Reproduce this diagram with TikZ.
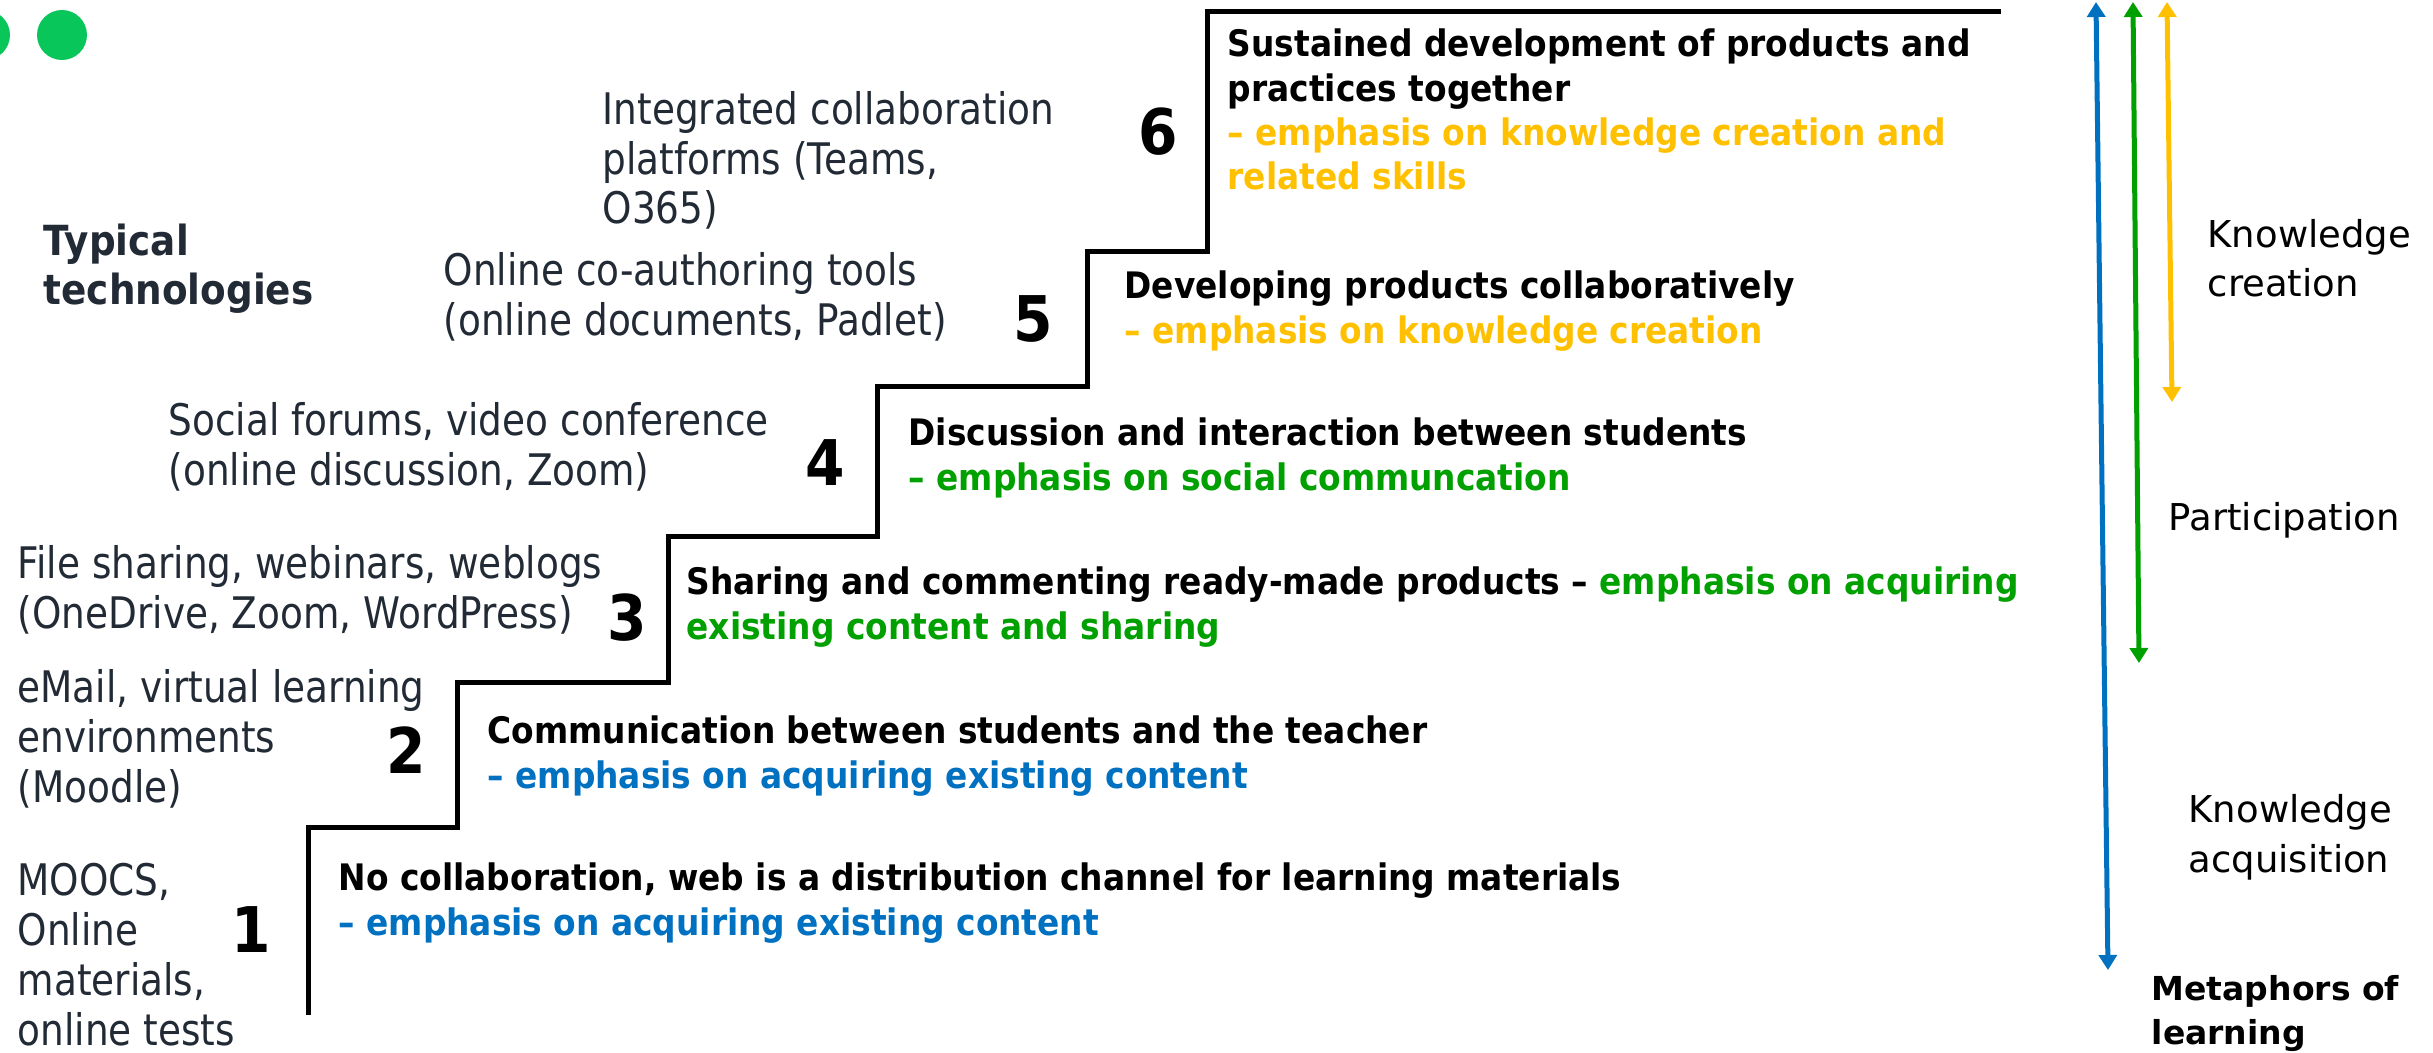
\documentclass[tikz,border=0pt]{standalone}
\usepackage{fontspec}
\setmainfont{DejaVu Sans}
\newfontfamily\techfont[FakeStretch=0.86]{DejaVu Sans}
\newfontfamily\stepfont[FakeStretch=0.9]{DejaVu Sans}
\usetikzlibrary{arrows.meta}

\definecolor{techgray}{HTML}{222A35}
\definecolor{acqblue}{HTML}{0070C0}
\definecolor{partgreen}{HTML}{00A000}
\definecolor{creayellow}{HTML}{FFC000}
\definecolor{dotgreen}{HTML}{08C65A}

% base anchor of a multi-line node = baseline of its last line
\tikzset{
  tech/.style={anchor=base west, align=left, inner sep=0pt, text=techgray,
    font=\techfont\fontsize{4.35mm}{5mm}\selectfont},
  techhead/.style={tech, font=\stepfont\bfseries\fontsize{4.15mm}{5mm}\selectfont},
  stepnum/.style={anchor=base, inner sep=0pt,
    font=\stepfont\bfseries\fontsize{6.3mm}{7mm}\selectfont},
  stepdesc/.style={anchor=base west, align=left, inner sep=0pt,
    font=\stepfont\bfseries\fontsize{3.65mm}{4.45mm}\selectfont},
  metaphor/.style={anchor=base west, align=left, inner sep=0pt,
    font=\fontsize{3.7mm}{5mm}\selectfont},
  stair/.style={line width=0.5mm, line join=miter},
  metaarrow/.style={line width=0.5mm, >={Triangle[width=1.8mm,length=1.5mm]}, <->},
}

\begin{document}
\begin{tikzpicture}[x=0.1mm, y=-0.1mm]
  \useasboundingbox (0,0) rectangle (2433,1053);

  % dots in the corner
  \fill[dotgreen] (-15,35) circle (25);
  \fill[dotgreen] (62,35) circle (25);

  % staircase
  \draw[stair] (308,1015) |- (457,827) |- (668,682) |- (877,536)
    |- (1087,387) |- (1207,252) |- (2001,12);

  % technologies
  \node[techhead] (typical) at (43,305) {Typical\\technologies};
  \node[tech] (tech6) at (602,224) {Integrated collaboration\\platforms (Teams,\\O365)};
  \node[tech] (tech5) at (443,336) {Online co-authoring tools\\(online documents, Padlet)};
  \node[tech] (tech4) at (168,485) {Social forums, video conference\\(online discussion, Zoom)};
  \node[tech] (tech3) at (17,628) {File sharing, webinars, weblogs\\(OneDrive, Zoom, WordPress)};
  \node[tech] (tech2) at (17,802) {eMail, virtual learning\\environments\\(Moodle)};
  \node[tech] (tech1) at (17,1045) {MOOCS,\\Online\\materials,\\online tests};

  % step numbers
  \node[stepnum] (n1) at (251,952) {1};
  \node[stepnum] (n2) at (406,773) {2};
  \node[stepnum] (n3) at (627,640) {3};
  \node[stepnum] (n4) at (825,485) {4};
  \node[stepnum] (n5) at (1033,342) {5};
  \node[stepnum] (n6) at (1158,155) {6};

  % step descriptions
  \node[stepdesc] (d1) at (338,935) {No collaboration, web is a distribution channel for learning materials\\
    \textcolor{acqblue}{– emphasis on acquiring existing content}};
  \node[stepdesc] (d2) at (487,788) {Communication between students and the teacher\\
    \textcolor{acqblue}{– emphasis on acquiring existing content}};
  \node[stepdesc] (d3) at (686,639) {Sharing and commenting ready-made products – \textcolor{partgreen}{emphasis on acquiring}\\
    \textcolor{partgreen}{existing content and sharing}};
  \node[stepdesc] (d4) at (908,490) {Discussion and interaction between students\\
    \textcolor{partgreen}{– emphasis on social communcation}};
  \node[stepdesc] (d5) at (1124,343) {Developing products collaboratively\\
    \textcolor{creayellow}{– emphasis on knowledge creation}};
  \node[stepdesc] (d6) at (1227,190) {Sustained development of products and\\practices together\\
    \textcolor{creayellow}{– emphasis on knowledge creation and}\\
    \textcolor{creayellow}{related skills}};

  % metaphors of learning
  \coordinate (acqtop) at (2096,2);
  \coordinate (acqbot) at (2108,970);
  \coordinate (parttop) at (2133,2);
  \coordinate (partbot) at (2139,663);
  \coordinate (creatop) at (2167,2);
  \coordinate (creabot) at (2172,402);
  \draw[metaarrow, acqblue] (acqtop) -- (acqbot);
  \draw[metaarrow, partgreen] (parttop) -- (partbot);
  \draw[metaarrow, creayellow] (creatop) -- (creabot);

  \node[metaphor] (kcrea) at (2207,297) {Knowledge\\creation};
  \node[metaphor] (part) at (2168,530) {Participation};
  \node[metaphor] (kacq) at (2188,872) {Knowledge\\acquisition};
  \node[metaphor, font=\bfseries\fontsize{3.3mm}{4.4mm}\selectfont] (meta) at (2151,1044) {Metaphors of\\learning};
\end{tikzpicture}
\end{document}
